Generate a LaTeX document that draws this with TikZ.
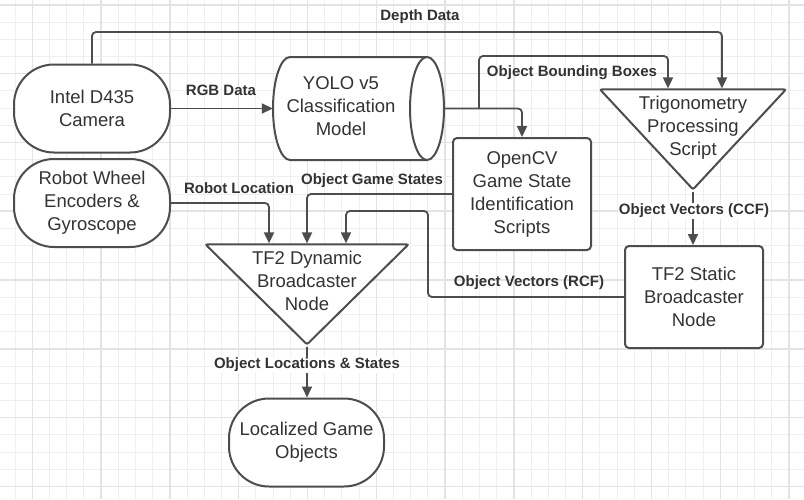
\documentclass[tikz,border=0pt]{standalone}
\usepackage{fontspec}
\setmainfont{Liberation Sans}
\usetikzlibrary{shapes.geometric,arrows.meta}
\definecolor{linegray}{HTML}{4D4D4D}
\definecolor{textgray}{HTML}{333333}
\definecolor{gridminor}{HTML}{EFEFEF}
\definecolor{gridmajor}{HTML}{E3E3E3}
\tikzset{
	block/.style={draw=linegray, line width=2pt, fill=white, text=textgray, align=center, font=\fontsize{18.5}{23}\selectfont},
	stadium/.style={block, rectangle, rounded corners=40pt, minimum width=156pt, minimum height=88pt},
	procbox/.style={block, rectangle, rounded corners=4pt, minimum width=138pt},
	tri/.style={block, isosceles triangle, isosceles triangle stretches, shape border rotate=270, rounded corners=2pt, inner sep=0pt},
	dbline/.style={draw=linegray, line width=2pt, fill=white},
	txt/.style={text=textgray, align=center, font=\fontsize{18.5}{23}\selectfont},
	lbl/.style={text=textgray, font=\fontsize{15}{18}\selectfont\bfseries, inner sep=1pt},
	link/.style={draw=linegray, line width=1.8pt, rounded corners=4pt, -{Triangle[length=11pt,width=10pt]}},
}
\begin{document}
\begin{tikzpicture}[x=1pt, y=-1pt]
			\useasboundingbox (0,0) rectangle (804,499);
			\fill[white] (0,0) rectangle (804,499);
			% grid
			\foreach \k in {0,...,46}
				\draw[gridminor, line width=1pt] ({15.1+17.2*\k},0) -- ({15.1+17.2*\k},499);
			\foreach \k in {0,...,28}
				\draw[gridminor, line width=1pt] (0,{4.8+17.2*\k}) -- (804,{4.8+17.2*\k});
			\foreach \k in {0,...,11}
				\draw[gridmajor, line width=1.5pt] ({32.3+68.8*\k},0) -- ({32.3+68.8*\k},499);
			\foreach \k in {0,...,7}
				\draw[gridmajor, line width=1.5pt] (0,{4.8+68.8*\k}) -- (804,{4.8+68.8*\k});

			% blocks
			\node[stadium] (cam) at(92, 108.5){Intel D435\\Camera};
			\node[stadium] (wheel) at(92, 203){Robot Wheel\\Encoders \&\\Gyroscope};
			\node[minimum width=171pt, minimum height=103pt, inner sep=0pt] (yolo) at(358.5, 108.5){};
				\filldraw[dbline] (290,57) -- (427,57) arc[start angle=-90, end angle=90, x radius=17, y radius=51.5]
					-- (290,160) arc[start angle=90, end angle=270, x radius=17, y radius=51.5] -- cycle;
				\draw[dbline] (427,57) arc[start angle=270, end angle=90, x radius=17, y radius=51.5];
				\node[txt] (yolotext) at(341, 106){YOLO v5\\Classification\\Model};
			\node[procbox, minimum height=112pt] (cv) at(522, 194){OpenCV\\Game State\\Identification\\Scripts};
			\node[tri, minimum width=186pt, minimum height=100pt, anchor=apex] (trigtri) at(693, 192){};
				\node[txt] (trigtext) at(693, 128){Trigonometry\\Processing\\Script};
			\node[procbox, minimum height=102pt] (static) at(694, 297){TF2 Static\\Broadcaster\\Node};
			\node[tri, minimum width=203pt, minimum height=100pt, anchor=apex] (dyntri) at(307, 347){};
				\node[txt] (dyntext) at(307, 281){TF2 Dynamic\\Broadcaster\\Node};
			\node[stadium, minimum width=155pt] (loc) at(306.5, 442.5){Localized Game\\Objects};

			% bends
			\coordinate (depthbend) at(722, 32);
			\coordinate (bbsplit) at(479, 108.5);
			\coordinate (bbbend) at(668, 56);
			\coordinate (rcfbend) at(428, 211);

			% links
			\draw[link] (cam.east) -- (yolo.west);
			\draw[link] (cam.north) |- (depthbend) -- (depthbend |- trigtri.north);
			\draw[link] (yolo.east) -| (cv.north);
			\draw[link] (bbsplit) |- (bbbend) -- (bbbend |- trigtri.north);
			\draw[link] (wheel.east) -| (269,0 |- dyntri.north);
			\draw[link] (cv.west) -| (307,0 |- dyntri.north);
			\draw[link] (static.west) -| (rcfbend) -| (346,0 |- dyntri.north);
			\draw[link] (trigtri.apex) -- (trigtri.apex |- static.north);
			\draw[link] (dyntri.apex) -- (dyntri.apex |- loc.north);

			% labels
			\node[lbl] (depthlbl) at(420, 17){Depth Data};
			\node[lbl] (rgblbl) at(221, 90){RGB Data};
			\node[lbl] (bblbl) at(572, 73){Object Bounding Boxes};
			\node[lbl] (robotlbl) at(239, 188){Robot Location};
			\node[lbl] (gslbl) at(372, 181){Object Game States};
			\node[lbl, fill=white] (ccflbl) at(694, 211){Object Vectors (CCF)};
			\node[lbl] (rcflbl) at(529, 283){Object Vectors (RCF)};
			\node[lbl, fill=white] (loclbl) at(307, 365){Object Locations \& States};
\end{tikzpicture}
\end{document}
